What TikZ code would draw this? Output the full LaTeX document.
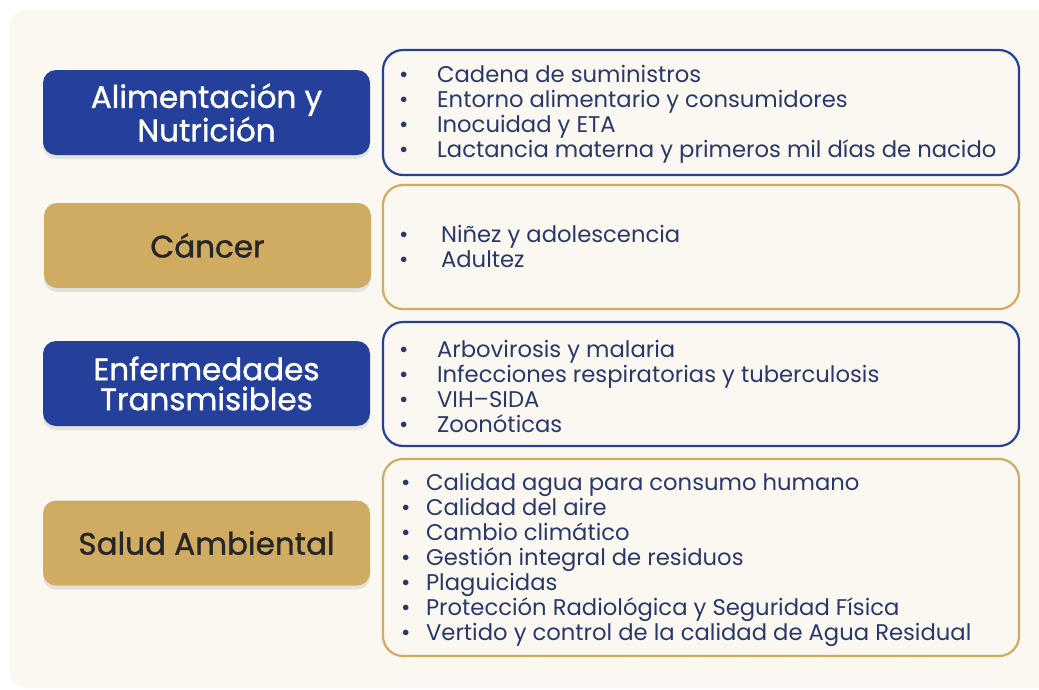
\documentclass[tikz,border=0pt]{standalone}
\usepackage{fontspec}
\setmainfont{Poppins}
\newfontfamily\gruesa{Poppins}[FakeBold=1.2]
\usetikzlibrary{shadows}
\definecolor{azul}{HTML}{24409A}
\definecolor{oro}{HTML}{CFAC62}
\definecolor{tinta}{HTML}{2A3868}
\definecolor{fondo}{HTML}{FBF8F2}
\newcommand{\punto}[2][38pt]{\makebox[#1][l]{\textbullet}#2}
\begin{document}
\begin{tikzpicture}[x=1pt,y=-1pt,
            tema/.style = {rounded corners=13pt,
                        minimum width=327pt,
                        minimum height=85pt,
                        align=center,
                        font=\gruesa\fontsize{31}{30}\selectfont,
                        drop shadow={opacity=0.18,shadow xshift=0pt,shadow yshift=-4pt}},
            caja/.style = {draw,line width=2.2pt,
                        rounded corners=20pt,
                        minimum width=636pt,
                        fill=fondo},
            lista/.style = {anchor=west,align=left,text=tinta,
                        inner sep=0pt,yshift=-2pt,
                        font=\fontsize{22.7}{25}\selectfont}]
            \useasboundingbox (0,0) rectangle (1039,689);
            % fondo
            \fill[fondo,rounded corners=16pt] (10,10) rectangle (1070,688);
            % Alimentacion
            \node[tema,fill=azul,text=white] (alim) at (206.5,112.5) {Alimentación y\\Nutrición};
            \node[caja,draw=azul,minimum height=125pt] (alimcaja) at (701,112.5) {};
            \node[lista] (alimtxt) at ([xshift=17pt]alimcaja.west) {%
              \punto{Cadena de suministros}\\
              \punto{Entorno alimentario y consumidores}\\
              \punto{Inocuidad y ETA}\\
              \punto{Lactancia materna y primeros mil días de nacido}};
            % Cancer
            \node[tema,fill=oro,text=black!85] (cancer) at (207.5,245.5) {Cáncer};
            \node[caja,draw=oro,minimum height=124pt] (cancercaja) at (701,247) {};
            \node[lista] (cancertxt) at ([xshift=17pt,yshift=3pt]cancercaja.west) {%
              \punto[42pt]{Niñez y adolescencia}\\
              \punto[42pt]{Adultez}};
            % Transmisibles
            \node[tema,fill=azul,text=white] (trans) at (206.5,383.5) {Enfermedades\\Transmisibles};
            \node[caja,draw=azul,minimum height=124pt] (transcaja) at (701,384) {};
            \node[lista] (transtxt) at ([xshift=17pt]transcaja.west) {%
              \punto{Arbovirosis y malaria}\\
              \punto{Infecciones respiratorias y tuberculosis}\\
              \punto{VIH–SIDA}\\
              \punto{Zoonóticas}};
            % Ambiental
            \node[tema,fill=oro,text=black!85] (amb) at (206.5,543) {Salud Ambiental};
            \node[caja,draw=oro,minimum height=197pt] (ambcaja) at (701,557.5) {};
            \node[lista] (ambtxt) at ([xshift=19pt]ambcaja.west) {%
              \punto[25pt]{Calidad agua para consumo humano}\\
              \punto[25pt]{Calidad del aire}\\
              \punto[25pt]{Cambio climático}\\
              \punto[25pt]{Gestión integral de residuos}\\
              \punto[25pt]{Plaguicidas}\\
              \punto[25pt]{Protección Radiológica y Seguridad Física}\\
              \punto[25pt]{Vertido y control de la calidad de Agua Residual}};
        \end{tikzpicture}
\end{document}
